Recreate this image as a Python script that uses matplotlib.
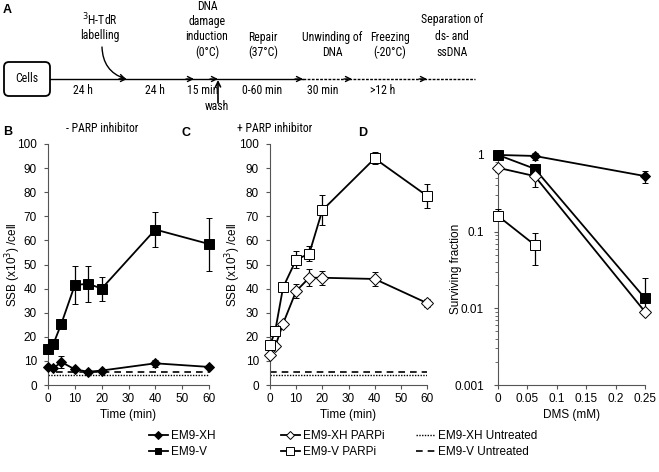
import numpy as np
import matplotlib
matplotlib.use("Agg")
import matplotlib.pyplot as plt
from matplotlib.lines import Line2D
from matplotlib.patches import FancyBboxPatch

plt.rcParams['font.family'] = ['Liberation Sans', 'DejaVu Sans']

# --------------------------- data ---------------------------
time_min = [0, 2, 5, 10, 15, 20, 40, 60]

# panel B (- PARP inhibitor)
xh_ssb = [7.5, 7, 9.5, 6.5, 5.5, 6, 9, 7.5]
xh_ssb_err = [1, 0.8, 2.5, 0.8, 0.5, 0.6, 1.5, 1]
v_ssb = [15, 17, 25.5, 41.5, 42, 40, 64.5, 58.5]
v_ssb_err = [2, 1.2, 0.5, 8, 7.5, 5, 7.2, 11]
xh_untreated = 4.3
v_untreated = 5.3

# panel C (+ PARP inhibitor)
xh_parpi_ssb = [12.5, 16, 25.5, 39, 44.5, 44.5, 44, 34]
xh_parpi_err = [1, 1, 1, 3, 3.5, 3, 3, 1.5]
v_parpi_ssb = [16.5, 22.5, 40.5, 52, 54.5, 72.5, 94, 78.5]
v_parpi_err = [1.5, 1.5, 2, 3.5, 3, 6.3, 2.5, 5]

# panel D (survival)
dms = [0, 0.0625, 0.25]
xh_surv = [1.0, 0.97, 0.53]
xh_surv_err = [[0.03, 0.1, 0.1], [0.03, 0.1, 0.08]]
v_surv = [1.0, 0.66, 0.0135]
v_surv_err = [[0.03, 0.05, 0.004], [0.03, 0.05, 0.0115]]
xh_parpi_surv = [0.68, 0.53, 0.009]
xh_parpi_err_d = [[0.03, 0.15, 0.0005], [0.03, 0.08, 0.0005]]
v_parpi_dms = [0, 0.0625]
v_parpi_surv = [0.16, 0.067]
v_parpi_err_d = [[0.02, 0.03], [0.04, 0.03]]

W, H = 659, 472
fig = plt.figure(figsize=(W / 100, H / 100), dpi=100)

# --------------------------- panel A: workflow diagram (pixel overlay) ---------------------------
axA = fig.add_axes([0, 0, 1, 1], zorder=5)
axA.set_xlim(0, W)
axA.set_ylim(H, 0)
axA.axis('off')
axA.patch.set_alpha(0)

dfont = ['Liberation Sans Narrow', 'Arial Narrow', 'Roboto Condensed', 'PT Sans Narrow',
         'Archivo Narrow', 'Liberation Sans', 'DejaVu Sans']
fs_d = 8.5
ly = 79
axA.add_patch(FancyBboxPatch((4, 62), 46, 34, boxstyle="round,pad=0,rounding_size=5",
                             fc='white', ec='black', lw=1.3))
axA.text(27, 79, "Cells", ha='center', va='center', fontsize=fs_d, family=dfont)
axA.plot([50, 303], [ly, ly], color='black', lw=1)
axA.plot([303, 475], [ly, ly], color='black', lw=1, ls=(0, (2, 1)))
for x in [127, 194, 218, 303, 352, 427]:
    axA.annotate('', xy=(x, ly), xytext=(x - 8, ly),
                 arrowprops=dict(arrowstyle='->', lw=1, color='black', shrinkA=0, shrinkB=0,
                                 mutation_scale=9))
axA.annotate('', xy=(218, ly + 1), xytext=(218, 103),
             arrowprops=dict(arrowstyle='->', lw=1.2, color='black', shrinkA=0, shrinkB=0,
                             mutation_scale=9))
axA.annotate('', xy=(126, ly), xytext=(102, 47),
             arrowprops=dict(arrowstyle='->', lw=1, color='black', shrinkA=0, shrinkB=0,
                             mutation_scale=9, connectionstyle='arc3,rad=0.35'))

for x, s in [(83, "24 h"), (155, "24 h"), (203, "15 min"), (262, "0-60 min"),
             (323, "30 min"), (383, ">12 h")]:
    axA.text(x, 91, s, ha='center', va='center', fontsize=fs_d, family=dfont)
axA.text(217, 107, "wash", ha='center', va='center', fontsize=fs_d, family=dfont)

axA.text(100, 20, r"$^{3}$H-TdR", ha='center', va='center', fontsize=fs_d, family=dfont)
axA.text(100, 36, "labelling", ha='center', va='center', fontsize=fs_d, family=dfont)
for i, s in enumerate(["DNA", "damage", "induction", "(0°C)"]):
    axA.text(207, 6 + i * 15.5, s, ha='center', va='center', fontsize=fs_d, family=dfont)
for x, lines in [(263, ["Repair", "(37°C)"]), (332, ["Unwinding of", "DNA"]),
                 (390, ["Freezing", "(-20°C)"])]:
    for i, s in enumerate(lines):
        axA.text(x, 37 + i * 15.5, s, ha='center', va='center', fontsize=fs_d, family=dfont)
for i, s in enumerate(["Separation of", "ds- and", "ssDNA"]):
    axA.text(452, 20 + i * 16, s, ha='center', va='center', fontsize=fs_d, family=dfont)

axA.text(3, 10, "A", fontsize=9, fontweight='bold', va='center')
axA.text(3, 132, "B", fontsize=9, fontweight='bold', va='center')
axA.text(181, 133, "C", fontsize=9, fontweight='bold', va='center')
axA.text(358, 133, "D", fontsize=9, fontweight='bold', va='center')
axA.text(102, 128, "- PARP inhibitor", ha='center', va='center', fontsize=fs_d, family=dfont)
axA.text(275, 128, "+ PARP inhibitor", ha='center', va='center', fontsize=fs_d, family=dfont)

# --------------------------- helpers ---------------------------
def style_axes(ax, ypad):
    ax.patch.set_alpha(0)
    for s in ['top', 'right']:
        ax.spines[s].set_visible(False)
    for s in ['left', 'bottom']:
        ax.spines[s].set_color('#555555')
    ax.tick_params(labelsize=8.5, length=3, color='#555555', pad=2.5)
    ax.tick_params(axis='y', pad=ypad)

def series(ax, x, y, err, marker, filled, ms):
    fc = 'black' if filled else 'white'
    ax.errorbar(x, y, yerr=err, color='black', lw=1.3, marker=marker, ms=ms,
                mfc=fc, mec='black', mew=0.7, capsize=2.5, elinewidth=0.9,
                capthick=0.9, clip_on=False, zorder=3)

def rect(px_l, px_r, px_top):
    return [px_l / W, (H - 385) / H, (px_r - px_l) / W, (385 - px_top) / H]

# --------------------------- panel B ---------------------------
axB = fig.add_axes(rect(48, 209, 144))
style_axes(axB, 5)
axB.plot([0, 60], [xh_untreated, xh_untreated], color='black', lw=1, ls=(0, (1, 1)))
axB.plot([3, 60], [v_untreated, v_untreated], color='black', lw=1.2, ls=(0, (4, 3)))
series(axB, time_min, xh_ssb, xh_ssb_err, 'D', True, 5)
series(axB, time_min, v_ssb, v_ssb_err, 's', True, 7)
axB.set_xlim(0, 60)
axB.set_ylim(0, 100)
axB.set_xticks(range(0, 61, 10))
axB.set_yticks(range(0, 101, 10))
axB.set_xlabel("Time (min)", fontsize=8.5, labelpad=3)
axB.set_ylabel(r"SSB (x10$^{3}$) /cell", fontsize=8.5)
axB.yaxis.set_label_coords(-0.155, 0.5)

# --------------------------- panel C ---------------------------
axC = fig.add_axes(rect(270, 427, 144))
style_axes(axC, 5)
axC.plot([0, 60], [xh_untreated, xh_untreated], color='black', lw=1, ls=(0, (1, 1)))
axC.plot([0, 60], [v_untreated, v_untreated], color='black', lw=1.2, ls=(0, (4, 3)))
series(axC, time_min, xh_parpi_ssb, xh_parpi_err, 'D', False, 6)
series(axC, time_min, v_parpi_ssb, v_parpi_err, 's', False, 7.5)
axC.set_xlim(0, 60)
axC.set_ylim(0, 100)
axC.set_xticks(range(0, 61, 10))
axC.set_yticks(range(0, 101, 10))
axC.set_xlabel("Time (min)", fontsize=8.5, labelpad=3)
axC.set_ylabel(r"SSB (x10$^{3}$) /cell", fontsize=8.5)
axC.yaxis.set_label_coords(-0.17, 0.5)

# --------------------------- panel D ---------------------------
axD = fig.add_axes(rect(498, 645, 153))
style_axes(axD, 7)
series(axD, dms, xh_surv, xh_surv_err, 'D', True, 5)
series(axD, dms, v_surv, v_surv_err, 's', True, 7)
series(axD, dms, xh_parpi_surv, xh_parpi_err_d, 'D', False, 6)
series(axD, v_parpi_dms, v_parpi_surv, v_parpi_err_d, 's', False, 7.5)
axD.set_yscale('log')
axD.set_ylim(0.001, 1.06)
axD.set_xlim(0, 0.25)
axD.set_xticks([0, 0.05, 0.1, 0.15, 0.2, 0.25])
axD.set_xticklabels(["0", "0.05", "0.1", "0.15", "0.2", "0.25"])
axD.set_yticks([0.001, 0.01, 0.1, 1])
axD.set_yticklabels(["0.001", "0.01", "0.1", "1"])
axD.tick_params(which='minor', length=2, color='#555555')
axD.set_xlabel("DMS (mM)", fontsize=8.5, labelpad=3)
axD.set_ylabel("Surviving fraction", fontsize=8.5)
axD.yaxis.set_label_coords(-0.245, 0.5)

# --------------------------- legend (three columns) ---------------------------
def h(marker, filled, ms, ls='-', lw=1.3):
    return Line2D([], [], color='black', lw=lw, ls=ls, marker=marker, ms=ms,
                  mfc='black' if filled else 'white', mec='black', mew=0.7)

legend_cols = [
    (149, [h('D', True, 4), h('s', True, 5)], ["EM9-XH", "EM9-V"]),
    (281, [h('D', False, 4.5), h('s', False, 5.5)], ["EM9-XH PARPi", "EM9-V PARPi"]),
    (416, [h(None, True, 0, ls=(0, (1, 1)), lw=1), h(None, True, 0, ls=(0, (4, 3)), lw=1.2)],
     ["EM9-XH Untreated", "EM9-V Untreated"]),
]
for x0, hs, labs in legend_cols:
    fig.legend(hs, labs, loc='center left', bbox_to_anchor=(x0 / W, 1 - 444 / H),
               frameon=False, fontsize=8.5, handlelength=1.6, handletextpad=0.3,
               labelspacing=0.3, borderpad=0, borderaxespad=0)

fig.savefig("out.png", dpi=100)
